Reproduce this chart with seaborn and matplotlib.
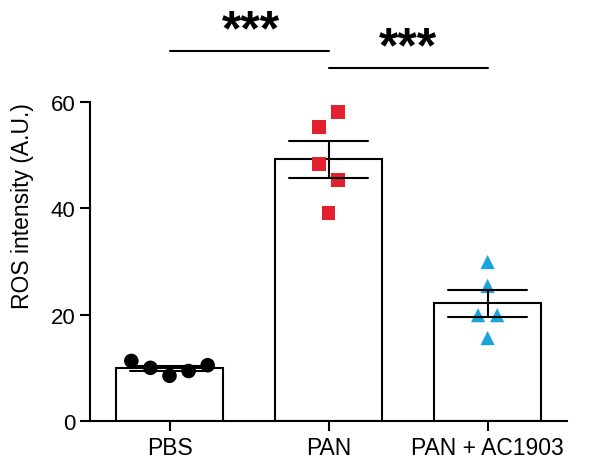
import pandas as pd
import seaborn as sns
import matplotlib.pyplot as plt

# values (ROS intensity, A.U.)
groups = ["PBS", "PAN", "PAN + AC1903"]
pbs = [11.3, 10.0, 8.5, 9.4, 10.5]
pan = [58.1, 55.3, 48.3, 45.3, 39.1]
pan_ac = [29.9, 25.4, 19.9, 19.9, 15.6]

df = pd.DataFrame({
    "group": [groups[0]] * 5 + [groups[1]] * 5 + [groups[2]] * 5,
    "value": pbs + pan + pan_ac,
})

# horizontal scatter of the dots within each bar (layout only)
spread = {
    "PBS": [-0.24, -0.12, 0.0, 0.12, 0.24],
    "PAN": [0.06, -0.06, -0.06, 0.06, 0.0],
    "PAN + AC1903": [0.0, 0.0, -0.06, 0.06, 0.0],
}
colors = {"PBS": "#000000", "PAN": "#E3212D", "PAN + AC1903": "#1AA6DA"}
markers = {"PBS": "o", "PAN": "s", "PAN + AC1903": "^"}
msize = {"PBS": 110, "PAN": 95, "PAN + AC1903": 105}

sns.set_style("ticks")
plt.rcParams["font.family"] = ["Liberation Sans", "DejaVu Sans"]
plt.rcParams["text.color"] = "black"
plt.rcParams["xtick.color"] = "black"
plt.rcParams["ytick.color"] = "black"
plt.rcParams["axes.labelcolor"] = "black"

fig = plt.figure(figsize=(5.92, 4.60), dpi=100)
ax = fig.add_axes([0.152, 0.0826, 0.806, 0.6935])

sns.barplot(data=df, x="group", y="value", order=groups, errorbar="se",
            capsize=0.5, width=0.67, color="white", edgecolor="black",
            linewidth=1.5, err_kws={"color": "black", "linewidth": 1.5, "zorder": 5},
            ax=ax)

for i, g in enumerate(groups):
    vals = df.loc[df["group"] == g, "value"].tolist()
    xs = [i + d for d in spread[g]]
    ax.scatter(xs, vals, s=msize[g], marker=markers[g],
               color=colors[g], edgecolor="none", zorder=4)

ax.set_xlim(-0.5, 2.5)
ax.set_ylim(0, 60)
ax.set_yticks([0, 20, 40, 60])
ax.set_xlabel("")
ax.set_ylabel("ROS intensity (A.U.)", fontsize=16.5)
ax.yaxis.set_label_coords(-0.118, 0.677)
ax.tick_params(axis="y", labelsize=16, length=7, width=1.5)
ax.tick_params(axis="x", labelsize=16.5, length=7, width=1.5)
sns.despine(ax=ax)
for s in ["left", "bottom"]:
    ax.spines[s].set_linewidth(1.5)
    ax.spines[s].set_color("black")

# significance brackets
ax.plot([0, 1], [69.6, 69.6], color="black", lw=1.5, clip_on=False)
ax.plot([1, 2], [66.4, 66.4], color="black", lw=1.5, clip_on=False)
ax.text(0.51, 70.8, "***", ha="center", va="baseline", fontsize=36, fontweight="bold")
ax.text(1.5, 67.6, "***", ha="center", va="baseline", fontsize=36, fontweight="bold")

fig.savefig("out.png", dpi=100)
